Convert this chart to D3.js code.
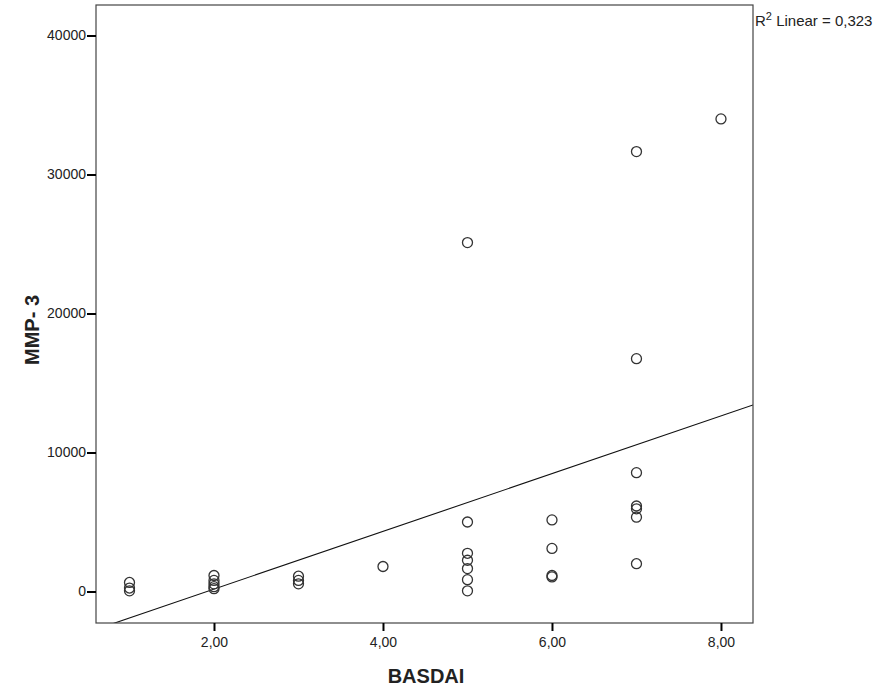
<!DOCTYPE html>
<html>
<head>
<meta charset="utf-8">
<script src="https://cdn.jsdelivr.net/npm/d3@7"></script>
<style>
  body { margin: 0; background: #fff; }
  text { font-family: "Liberation Sans", Arial, sans-serif; fill: #222; }
  .axis path { display: none; }
  .axis line { stroke: #000; stroke-width: 2; }
  .axis text { font-size: 14px; }
</style>
</head>
<body>
<div id="chart"></div>
<script>
// BASDAI score (x) and MMP-3 (y)
var basdai = [1, 1, 1,
  2, 2, 2, 2, 2,
  3, 3, 3,
  4,
  5, 5, 5, 5, 5, 5, 5,
  6, 6, 6, 6,
  7, 7, 7, 7, 7, 7, 7,
  8];
var mmp3 = [650, 250, 50,
  1150, 800, 550, 350, 200,
  1100, 800, 550,
  1800,
  25100, 5000, 2750, 2250, 1650, 850, 50,
  5150, 3100, 1150, 1050,
  31650, 16750, 8550, 6150, 5950, 5350, 2000,
  34000];

// linear fit as shown on the chart
var fitIntercept = -3980;
var fitSlope = 2076;
var r2Label = "0,323";

var xTicks = [2, 4, 6, 8];
var yTicks = [0, 10000, 20000, 30000, 40000];

// Set the dimensions of the plot frame
var width = 878, height = 690;
var frame = {left: 96, right: 753, top: 5, bottom: 623};

var svg = d3.select("#chart").append("svg")
  .attr("width", width)
  .attr("height", height);

var x = d3.scaleLinear().domain([0.6036, 8.379]).range([frame.left, frame.right]);
var y = d3.scaleLinear().domain([-2266, 42194]).range([frame.bottom, frame.top]);

// clip for the fit line
svg.append("clipPath").attr("id", "plotclip")
  .append("rect")
    .attr("x", frame.left).attr("y", frame.top)
    .attr("width", frame.right - frame.left).attr("height", frame.bottom - frame.top);

// Fit line
var fitLine = d3.line()
  .x(function(d) { return x(d); })
  .y(function(d) { return y(fitIntercept + fitSlope * d); });

svg.append("path")
  .datum(x.domain())
  .attr("clip-path", "url(#plotclip)")
  .attr("fill", "none")
  .attr("stroke", "#111")
  .attr("stroke-width", 1.1)
  .attr("d", fitLine);

// points
svg.selectAll("circle.pt")
  .data(basdai)
  .enter().append("circle")
    .attr("class", "pt")
    .attr("cx", function(d) { return x(d); })
    .attr("cy", function(d, i) { return y(mmp3[i]); })
    .attr("r", 5)
    .attr("fill", "none")
    .attr("stroke", "#333")
    .attr("stroke-width", 1.3);

// frame
svg.append("rect")
  .attr("x", frame.left).attr("y", frame.top)
  .attr("width", frame.right - frame.left).attr("height", frame.bottom - frame.top)
  .attr("fill", "none")
  .attr("stroke", "#444")
  .attr("stroke-width", 1.2);

// axes
svg.append("g")
  .attr("class", "x axis")
  .attr("transform", "translate(0," + frame.bottom + ")")
  .call(d3.axisBottom(x).tickValues(xTicks).tickSize(8).tickPadding(6)
    .tickFormat(function(d) { return d3.format(".2f")(d).replace(".", ","); }));

svg.append("g")
  .attr("class", "y axis")
  .attr("transform", "translate(" + frame.left + ",0)")
  .call(d3.axisLeft(y).tickValues(yTicks).tickSize(9).tickPadding(1)
    .tickFormat(d3.format("d")));

// axis titles
svg.append("text")
  .attr("x", 426).attr("y", 683)
  .attr("text-anchor", "middle")
  .style("font-size", "20px")
  .style("font-weight", "bold")
  .text("BASDAI");

svg.append("text")
  .attr("transform", "translate(39,330) rotate(-90)")
  .attr("text-anchor", "middle")
  .style("font-size", "20px")
  .style("font-weight", "bold")
  .text("MMP- 3");

// R² label
var r2 = svg.append("text")
  .attr("x", 755).attr("y", 26)
  .style("font-size", "15px");
r2.append("tspan").text("R");
r2.append("tspan").attr("dy", -6).style("font-size", "11px").text("2");
r2.append("tspan").attr("dy", 6).text(" Linear = " + r2Label);
</script>
</body>
</html>
